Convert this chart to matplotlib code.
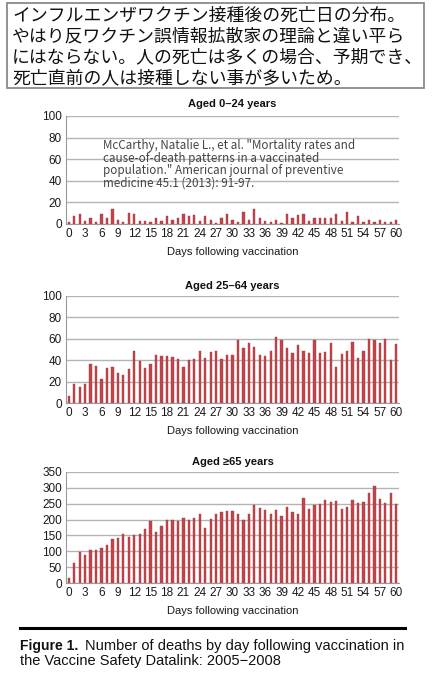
import matplotlib
matplotlib.use("Agg")
import matplotlib.pyplot as plt
import numpy as np

# days after vaccination (0..60)
days = np.arange(61)

# deaths per day
deaths_0_24 = [2, 7, 9, 3, 6, 2, 9, 6, 14, 4, 2, 10, 9, 3, 3, 2, 6, 3, 7, 4,
               6, 9, 7, 8, 3, 7, 4, 1, 6, 9, 4, 2, 11, 4, 14, 6, 3, 2, 4, 1,
               9, 6, 8, 9, 3, 6, 6, 6, 6, 9, 3, 11, 2, 7, 2, 4, 2, 4, 2, 2, 4]
deaths_25_64 = [7, 18, 15, 18, 36, 35, 22, 33, 34, 28, 26, 32, 49, 39, 33, 36, 45, 44, 44, 43,
                41, 34, 40, 41, 49, 42, 48, 49, 41, 45, 45, 59, 51, 56, 52, 45, 44, 49, 62, 59,
                51, 47, 54, 49, 47, 59, 47, 48, 56, 34, 46, 49, 57, 42, 49, 60, 59, 56, 60, 40, 55]
deaths_65 = [15, 62, 99, 89, 105, 105, 110, 121, 138, 141, 155, 144, 151, 155, 171, 195, 162, 181, 200, 198,
             194, 206, 198, 206, 219, 174, 201, 216, 224, 227, 226, 217, 199, 219, 245, 236, 231, 217, 231, 212,
             241, 225, 217, 268, 234, 247, 249, 262, 255, 257, 234, 241, 262, 252, 255, 285, 306, 264, 252, 285, 250]

titles = ["Aged 0\u201324 years", "Aged 25\u201364 years", "Aged \u226565 years"]
ylims = [100, 100, 350]
ysteps = [20, 20, 50]
xticks = np.arange(0, 61, 3)

note_jp = ["インフルエンザワクチン接種後の死亡日の分布。",
           "やはり反ワクチン誤情報拡散家の理論と違い平ら",
           "にはならない。人の死亡は多くの場合、予期でき、",
           "死亡直前の人は接種しない事が多いため。"]
citation = ['McCarthy, Natalie L., et al. "Mortality rates and',
            'cause-of-death patterns in a vaccinated',
            'population." American journal of preventive',
            'medicine 45.1 (2013): 91-97.']

W, H = 433, 680
fig = plt.figure(figsize=(W / 100, H / 100), dpi=100)
fig.patch.set_facecolor("white")

bar_color = "#c2454b"
grid_color = "#b4b4b4"
num_font = "Liberation Sans"

# axes boxes in pixels: left, top, right, bottom
boxes = [(66, 116, 399, 224), (66, 296, 399, 403), (66, 472, 399, 583)]
title_y = [104, 286, 462]
data = [deaths_0_24, deaths_25_64, deaths_65]

for i in range(3):
    l, t, r, b = boxes[i]
    ax = fig.add_axes([l / W, 1 - b / H, (r - l) / W, (b - t) / H])
    ax.bar(days, data[i], width=0.42, color=bar_color, edgecolor="#a83a40",
           linewidth=0.3, zorder=3)
    ax.set_xlim(-0.5, 60.5)
    ax.set_ylim(0, ylims[i])
    ax.set_yticks(np.arange(0, ylims[i] + 1, ysteps[i]))
    ax.set_xticks(xticks)
    ax.yaxis.grid(True, color=grid_color, linewidth=1.0, zorder=0)
    ax.set_axisbelow(True)
    for s in ["top", "right"]:
        ax.spines[s].set_visible(False)
    ax.spines["left"].set_color("#9a9a9a")
    ax.spines["bottom"].set_color("#9a9a9a")
    ax.tick_params(length=0, pad=3, labelsize=8.5, colors="#1a1a1a")
    for lab in ax.get_xticklabels() + ax.get_yticklabels():
        lab.set_fontfamily(num_font)
    ax.set_xlabel("Days following vaccination", fontsize=8, family=num_font,
                  color="#1a1a1a", labelpad=5)
    fig.text((l + r) / 2 / W, 1 - title_y[i] / H, titles[i], ha="center", va="center",
             fontsize=8, fontweight="bold", family=["Liberation Sans", "DejaVu Sans"],
             color="#111111")
    if i == 0:
        for k, line in enumerate(citation):
            fig.text(103 / W, 1 - (146 + 12.2 * k) / H, line, ha="left", va="center",
                     fontsize=8.4, family=["Noto Sans CJK JP", "DejaVu Sans"], color="#444444")

# Japanese note box on top
box = plt.Rectangle((7 / W, 1 - 88 / H), (424 - 7) / W, (88 - 3) / H, transform=fig.transFigure,
                    fill=False, edgecolor="#8a8a8a", linewidth=1.3)
fig.patches.append(box)
for k, line in enumerate(note_jp):
    fig.text(12 / W, 1 - (15.5 + 20.8 * k) / H, line, ha="left", va="center",
             fontsize=12.85, family=["Noto Sans CJK JP", "DejaVu Sans"], color="#111111")

# caption at the bottom
fig.add_artist(plt.Line2D([20 / W, 405 / W], [1 - 628 / H, 1 - 628 / H], transform=fig.transFigure,
                          color="black", linewidth=2.2))
fig.text(20 / W, 1 - 646 / H, "Figure 1.", ha="left", va="center", fontsize=10,
         fontweight="bold", family="Liberation Sans", color="#111111")
fig.text(85 / W, 1 - 646 / H, "Number of deaths by day following vaccination in", ha="left",
         va="center", fontsize=10.5, family="Liberation Sans", color="#111111")
fig.text(20 / W, 1 - 661 / H, "the Vaccine Safety Datalink: 2005\u22122008", ha="left",
         va="center", fontsize=10.5, family="Liberation Sans", color="#111111")

fig.savefig("out.png", dpi=100)
